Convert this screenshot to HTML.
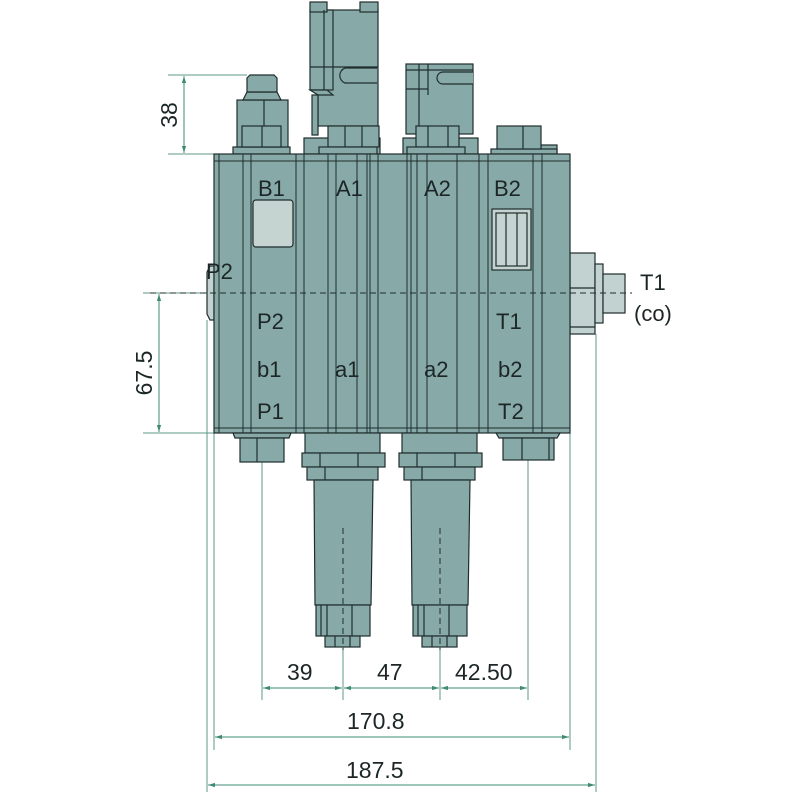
<!DOCTYPE html>
<html><head><meta charset="utf-8"><style>html,body{margin:0;padding:0;background:#fff}svg{display:block}text{font-family:"Liberation Sans","DejaVu Sans",sans-serif;fill:#1c2626}</style></head><body>
<svg width="800" height="800" viewBox="0 0 800 800" xmlns="http://www.w3.org/2000/svg">
<defs>
<marker id="ar" viewBox="0 0 10 10" refX="10" refY="5" markerWidth="7" markerHeight="7" orient="auto-start-reverse"><path d="M0,2 L10,5 L0,8 z" fill="#3f8a74"/></marker>
</defs>
<g stroke="#5c9a88" stroke-width="1" fill="none">
<line x1="207" y1="320" x2="207" y2="792"/>
<line x1="214" y1="433" x2="214" y2="750"/>
<line x1="262" y1="462" x2="262" y2="700"/>
<line x1="343" y1="640" x2="343" y2="700"/>
<line x1="440" y1="640" x2="440" y2="700"/>
<line x1="528" y1="460" x2="528" y2="700"/>
<line x1="570" y1="433" x2="570" y2="750"/>
<line x1="596" y1="334" x2="596" y2="792"/>
<line x1="168" y1="75" x2="247" y2="75"/>
<line x1="168" y1="154" x2="214" y2="154"/>
<line x1="143" y1="293" x2="214" y2="293"/>
<line x1="143" y1="433" x2="214" y2="433"/>
</g>
<g stroke="#3f8a74" stroke-width="1" fill="none">
<line x1="263" y1="688" x2="342" y2="688" marker-start="url(#ar)" marker-end="url(#ar)"/>
<line x1="344" y1="688" x2="439" y2="688" marker-start="url(#ar)" marker-end="url(#ar)"/>
<line x1="441" y1="688" x2="527" y2="688" marker-start="url(#ar)" marker-end="url(#ar)"/>
<line x1="215" y1="737" x2="569" y2="737" marker-start="url(#ar)" marker-end="url(#ar)"/>
<line x1="208" y1="785" x2="595" y2="785" marker-start="url(#ar)" marker-end="url(#ar)"/>
<line x1="184" y1="76" x2="184" y2="153" marker-start="url(#ar)" marker-end="url(#ar)"/>
<line x1="159" y1="294" x2="159" y2="432" marker-start="url(#ar)" marker-end="url(#ar)"/>
</g>
<g stroke="#1f2d2d" stroke-width="1.2" fill="#87aaa8">
<path d="M207,272 L210,266 L214,266 L214,320 L210,320 L207,314 z" fill="#c2d2d0"/>
<rect x="570" y="253" width="25" height="81" fill="#c2d2d0"/>
<line x1="570" y1="288" x2="595" y2="288"/>
<line x1="570" y1="327" x2="595" y2="327"/>
<rect x="595" y="264" width="8" height="59" fill="#c2d2d0"/>
<rect x="603" y="274" width="22" height="39" fill="#c2d2d0"/>
<rect x="233" y="147" width="57" height="7"/>
<rect x="237" y="100" width="51" height="47"/>
<line x1="264" y1="100" x2="264" y2="126"/>
<rect x="242" y="126" width="39" height="21"/>
<line x1="262" y1="126" x2="262" y2="147"/>
<path d="M243,100 L247,92 L277,92 L281,100 z"/>
<path d="M247,92 L247,78 L250,75 L274,75 L277,78 L277,92 z"/>
<!-- A1 solenoid -->
<rect x="318" y="10" width="60" height="116"/>
<rect x="310" y="10" width="23" height="80"/>
<rect x="310" y="2" width="17" height="10"/>
<rect x="360" y="2" width="18" height="10"/>
<line x1="324" y1="10" x2="324" y2="90"/>
<line x1="310" y1="67" x2="378" y2="67"/>
<path d="M310,90 L327,90 L333,95 L318,95 z"/>
<rect x="312" y="95" width="6" height="40"/>
<path d="M377,68 L345,68 A8,8 0 0 0 345,83 L377,83"/>
<rect x="304" y="138" width="76" height="16"/>
<rect x="328" y="126" width="51" height="21"/>
<line x1="345" y1="126" x2="345" y2="147"/>
<line x1="362" y1="126" x2="362" y2="147"/>
<rect x="319" y="147" width="58" height="7"/>
<!-- A2 -->
<rect x="406" y="64" width="67" height="70"/>
<line x1="406" y1="70" x2="473" y2="70"/>
<line x1="419" y1="64" x2="419" y2="134"/>
<line x1="428" y1="64" x2="428" y2="95"/>
<line x1="406" y1="89" x2="428" y2="89"/>
<path d="M473,72 L443,72 A6,6 0 0 0 443,84 L473,84"/>
<rect x="403" y="138" width="75" height="16"/>
<rect x="416" y="126" width="43" height="21"/>
<line x1="428" y1="126" x2="428" y2="147"/>
<line x1="448" y1="126" x2="448" y2="147"/>
<rect x="407" y="147" width="58" height="7"/>
<rect x="541" y="145" width="16" height="9"/>
<rect x="491" y="149" width="66" height="5"/>
<rect x="497" y="126" width="44" height="23"/>
<line x1="523" y1="126" x2="523" y2="149"/>
<rect x="214" y="154" width="356" height="279"/>
</g>
<g stroke="#1f2d2d" stroke-width="1" fill="none">
<line x1="214" y1="161" x2="570" y2="161"/>
<line x1="214" y1="428" x2="570" y2="428"/>
<line x1="219" y1="154" x2="219" y2="433"/>
<line x1="243" y1="154" x2="243" y2="433"/>
<line x1="251" y1="154" x2="251" y2="433"/>
<line x1="296" y1="154" x2="296" y2="433"/>
<line x1="304" y1="154" x2="304" y2="433"/>
<line x1="328" y1="154" x2="328" y2="433"/>
<line x1="336" y1="154" x2="336" y2="433"/>
<line x1="357" y1="154" x2="357" y2="433"/>
<line x1="367" y1="154" x2="367" y2="433"/>
<line x1="370" y1="154" x2="370" y2="433"/>
<line x1="378" y1="154" x2="378" y2="433"/>
<line x1="407" y1="154" x2="407" y2="433"/>
<line x1="411" y1="154" x2="411" y2="433"/>
<line x1="417" y1="154" x2="417" y2="433"/>
<line x1="427" y1="154" x2="427" y2="433"/>
<line x1="457" y1="154" x2="457" y2="433"/>
<line x1="479" y1="154" x2="479" y2="433"/>
<line x1="488" y1="154" x2="488" y2="433"/>
<line x1="533" y1="154" x2="533" y2="433"/>
<line x1="542" y1="154" x2="542" y2="433"/>
</g>
<g stroke="#1f2d2d" stroke-width="1.2">
<rect x="253" y="200" width="40" height="47" rx="3" fill="#c5d3d1"/>
<rect x="492" y="209" width="39" height="61" fill="#c5d3d1"/>
<rect x="496" y="213" width="31" height="53" fill="#c5d3d1"/>
<line x1="506" y1="213" x2="506" y2="266"/>
<line x1="517" y1="213" x2="517" y2="266"/>
</g>
<g stroke="#1f2d2d" stroke-width="1.2" fill="#87aaa8">
<path d="M233,433 L291,433 L289,438 L235,438 z"/>
<rect x="240" y="438" width="44" height="24"/>
<line x1="257" y1="438" x2="257" y2="462"/>
<path d="M496,433 L560,433 L557,438 L499,438 z"/>
<rect x="503" y="438" width="51" height="22"/>
<line x1="522" y1="438" x2="522" y2="460"/>
<line x1="549" y1="438" x2="549" y2="460"/>
<rect x="305" y="433" width="75" height="20"/>
<rect x="302" y="453" width="83" height="14"/>
<line x1="320" y1="453" x2="320" y2="467"/><line x1="358" y1="453" x2="358" y2="467"/>
<rect x="307" y="467" width="71" height="13"/>
<line x1="325" y1="467" x2="325" y2="480"/>
<path d="M314,480 L373,480 L371,605 L315,605 z"/>
<rect x="316" y="605" width="54" height="31"/>
<line x1="321" y1="605" x2="321" y2="636"/><line x1="327" y1="605" x2="327" y2="636"/><line x1="352" y1="605" x2="352" y2="636"/>
<rect x="325" y="636" width="35" height="11"/>
<line x1="335" y1="636" x2="335" y2="647"/><line x1="350" y1="636" x2="350" y2="647"/>
<rect x="402" y="433" width="75" height="20"/>
<rect x="399" y="453" width="83" height="14"/>
<line x1="417" y1="453" x2="417" y2="467"/><line x1="455" y1="453" x2="455" y2="467"/>
<rect x="404" y="467" width="71" height="13"/>
<line x1="422" y1="467" x2="422" y2="480"/>
<path d="M411,480 L470,480 L468,605 L412,605 z"/>
<rect x="413" y="605" width="54" height="31"/>
<line x1="418" y1="605" x2="418" y2="636"/><line x1="424" y1="605" x2="424" y2="636"/><line x1="449" y1="605" x2="449" y2="636"/>
<rect x="422" y="636" width="35" height="11"/>
<line x1="432" y1="636" x2="432" y2="647"/><line x1="447" y1="636" x2="447" y2="647"/>
</g>
<g stroke="#1f2d2d" stroke-width="1" stroke-dasharray="6,4" fill="none">
<line x1="150" y1="293" x2="632" y2="293"/>
<line x1="343" y1="528" x2="343" y2="650"/>
<line x1="440" y1="528" x2="440" y2="650"/>
</g>
<g font-size="22">
<text x="258" y="196">B1</text><text x="336" y="196">A1</text>
<text x="424" y="196">A2</text><text x="494" y="196">B2</text>
<text x="257" y="329">P2</text><text x="257" y="377">b1</text><text x="257" y="419">P1</text>
<text x="335" y="377">a1</text><text x="424" y="377">a2</text>
<text x="496" y="329">T1</text><text x="498" y="377">b2</text><text x="498" y="419">T2</text>
<text x="206" y="279">P2</text>
<text x="640" y="290">T1</text><text x="634" y="321">(co)</text>
</g>
<g font-size="23">
<text x="287" y="680">39</text><text x="377" y="680">47</text><text x="455" y="680">42.50</text>
<text x="347" y="729">170.8</text><text x="346" y="778">187.5</text>
<text transform="translate(177,115) rotate(-90)" text-anchor="middle">38</text>
<text transform="translate(152,373) rotate(-90)" text-anchor="middle">67.5</text>
</g>
</svg>
</body></html>
